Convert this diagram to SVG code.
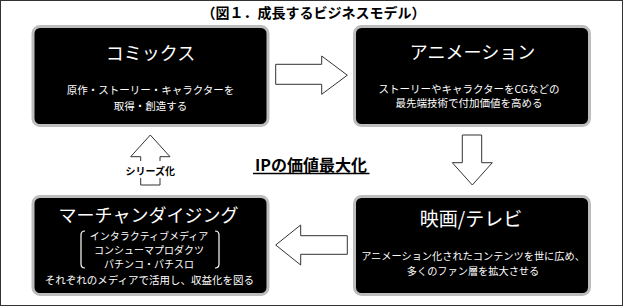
<svg xmlns="http://www.w3.org/2000/svg" width="624" height="307" viewBox="0 0 624 307">
<style>
.frame{fill:#fff;stroke:#333;stroke-width:1}
.box{fill:#000;stroke:#bdbdbd;stroke-width:3}
.t{font-family:"Noto Sans CJK JP","Noto Sans",sans-serif;text-anchor:middle}
.h{fill:#fff;font-size:18px}
.s{fill:#fff;font-size:10.5px}
.arrow{fill:#fff;stroke:#333;stroke-width:1;stroke-linejoin:miter}
.br{fill:none;stroke:#fff;stroke-width:1.2}
</style>
<rect class="frame" x="0.5" y="0.5" width="622" height="305"/>
<text class="t" x="313.5" y="18" font-size="14" font-weight="bold" fill="#000">（図１．成長するビジネスモデル）</text>

<g id="connectors">
<polygon class="arrow" points="275.7,64.3 321.7,64.3 321.7,56 347.3,75.2 321.7,94.3 321.7,84.3 275.7,84.3"/>
<polygon class="arrow" points="462.3,135 481.7,135 481.7,162.7 492.3,162.7 472.3,185 452.3,162.7 462.3,162.7"/>
<polygon class="arrow" points="275.7,245 300.7,225 300.7,235.7 347.3,235.7 347.3,254.3 300.7,254.3 300.7,265"/>
<polygon class="arrow" points="150.3,135 170,156.7 160,156.7 160,185 140.7,185 140.7,156.7 130.7,156.7"/>
<rect x="124" y="161" width="52" height="17" fill="#fff"/>
<text class="t" x="150.3" y="175.3" font-size="10" font-weight="bold" fill="#000">シリーズ化</text>
</g>

<g id="center-label">
<text class="t" x="311" y="170.8" font-size="16" font-weight="bold" fill="#000">IPの価値最大化</text>
<line x1="253" y1="173.5" x2="369.5" y2="173.5" stroke="#000" stroke-width="1.3"/>
</g>

<g id="comics">
<rect class="box" x="33" y="26.5" width="235" height="99" rx="7"/>
<text class="t h" x="150.5" y="59.5">コミックス</text>
<text class="t s"><tspan x="150.5" y="93.7">原作・ストーリー・キャラクターを</tspan><tspan x="150.5" y="109.7">取得・創造する</tspan></text>
</g>

<g id="animation">
<rect class="box" x="354.5" y="26.5" width="235" height="99" rx="7"/>
<text class="t h" x="472.5" y="58.8">アニメーション</text>
<text class="t s"><tspan x="469" y="93">ストーリーやキャラクターをCGなどの</tspan><tspan x="469" y="107">最先端技術で付加価値を高める</tspan></text>
</g>

<g id="film-tv">
<rect class="box" x="354.5" y="196.5" width="235" height="98" rx="7"/>
<text class="t h" x="471" y="225.6" style="font-size:19px">映画/テレビ</text>
<text class="t s" style="font-size:10.2px"><tspan x="473" y="260.3">アニメーション化されたコンテンツを世に広め、</tspan><tspan x="473" y="274.5">多くのファン層を拡大させる</tspan></text>
</g>

<g id="merchandising">
<rect class="box" x="33" y="196.5" width="235" height="98" rx="7"/>
<text class="t h" x="148.5" y="222.3">マーチャンダイジング</text>
<path class="br" d="M85,231 Q81,231 81,235 L81,264 Q81,268 85,268"/>
<path class="br" d="M215,231 Q219,231 219,235 L219,264 Q219,268 215,268"/>
<text class="t s" style="font-size:10px"><tspan x="149" y="239.5">インタラクティブメディア</tspan><tspan x="149" y="253.5">コンシューマプロダクツ</tspan><tspan x="149" y="267.5">パチンコ・パチスロ</tspan></text>
<text class="t s" x="149.5" y="284">それぞれのメディアで活用し、収益化を図る</text>
</g>
</svg>
